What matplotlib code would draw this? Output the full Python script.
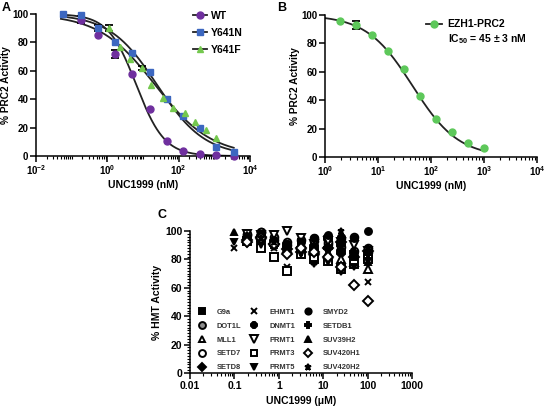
import numpy as np
import matplotlib
matplotlib.use("Agg")
import matplotlib.pyplot as plt
from matplotlib.ticker import LogLocator, NullFormatter, MultipleLocator, FixedLocator

plt.rcParams["font.family"] = ["Liberation Sans", "DejaVu Sans"]
plt.rcParams["font.weight"] = "bold"
plt.rcParams["mathtext.fontset"] = "custom"
plt.rcParams["mathtext.rm"] = "Liberation Sans:bold"
plt.rcParams["mathtext.bf"] = "Liberation Sans:bold"
plt.rcParams["mathtext.default"] = "rm"

# ---- panel A data (nM, % activity) ----
wt_x = [0.18, 0.54, 1.6, 5.0, 15.5, 46, 132, 390, 1120, 3470]
wt_y = [96, 85.4, 72, 58, 33, 10.3, 3.3, 1.4, 0.5, 0.2]
wt_err = [2.5, 0, 3, 0, 0, 0, 0, 0, 0, 0]
y641n_x = [0.059, 0.18, 0.54, 1.6, 5.0, 15.5, 46, 132, 390, 1120, 3470]
y641n_y = [100, 99.5, 90, 80, 72.5, 59, 40, 28.4, 19.7, 6, 2.6]
y641n_err = [0, 0, 2, 0, 0, 0, 1.5, 0, 0, 0, 0]
y641f_x = [1.15, 2.3, 4.4, 9.3, 17, 36, 69, 148, 282, 575, 1150]
y641f_y = [90, 77, 68, 62, 50, 41, 34, 30, 24, 18.5, 12.7]
y641f_err = [2, 0, 0, 1.5, 0, 0, 0, 0, 0, 0, 0]
# fitted curve parameters (IC50 nM, Hill slope)
wt_fit = (6.5, 1.1)
y641n_fit = (25, 0.65)
y641f_fit = (22, 0.55)

# ---- panel B data ----
ezh1_x = [1.95, 3.9, 7.8, 15.6, 31.25, 62.5, 125, 250, 500, 1000]
ezh1_y = [95.5, 93, 86, 75, 62, 43, 27, 17.5, 10, 6.5]
ezh1_err = [0, 3, 0, 0, 0, 0, 0, 0, 0, 0]
ezh1_fit = (45, 1.0)

# ---- panel C data (uM, % activity) ----
conc = [0.098, 0.195, 0.39, 0.78, 1.56, 3.125, 6.25, 12.5, 25, 50, 100]
nan = np.nan
hmt = {
    "G9a":      [nan, 96, 94, 90, 86, 92, 88, 90, 87, 84, 82],
    "DOT1L":    [nan, 97, 99, 94, 90, 88, 93, 91, 89, 86, 85],
    "MLL1":     [nan, 95, 97, 93, 88, 90, 86, 84, 80, 78, 73],
    "SETD7":    [nan, 98, 99, 96, 92, 94, 95, 92, 95, 96, 88],
    "SETD8":    [nan, 94, 96, 91, 87, 85, 84, 88, 92, 82, 86],
    "EHMT1":    [88, 93, 90, 88, 75, 86, 78, 80, 74, 76, 64],
    "DNMT1":    [nan, 94, 96, 92, 90, 87, 89, 95, 85, 82, 80],
    "PRMT1":    [nan, 98, 97, 97, 100, 95, 91, 93, 92, 90, 86],
    "PRMT3":    [nan, 93, 88, 82, 72, 84, 80, 79, 73, 77, 80],
    "PRMT5":    [92, 91, 90, 89, 86, 84, 77, 78, 71, 75, 79],
    "SMYD2":    [nan, 96, 98, 94, 89, 92, 95, 97, 96, 95, 100],
    "SETDB1":   [nan, 95, 93, 90, 88, 86, 86, 88, 90, 85, 84],
    "SUV39H2":  [99, 97, 96, 93, 91, 90, 88, 85, 86, 84, 78],
    "SUV420H1": [nan, 92, 95, 91, 84, 88, 85, 82, 75, 62, 51],
    "SUV420H2": [nan, 97, 95, 92, 90, 93, 90, 87, 100, 83, 88],
}
# marker, facecolor, size
hmt_style = {
    "G9a": ("s", "k", 5), "DOT1L": ("o", "0.55", 5.5), "MLL1": ("^", "w", 5.5),
    "SETD7": ("o", "w", 5.5), "SETD8": ("D", "k", 5), "EHMT1": ("x", "k", 5),
    "DNMT1": ("8", "k", 6), "PRMT1": ("v", "w", 6), "PRMT3": ("s", "w", 5.5),
    "PRMT5": ("v", "k", 5), "SMYD2": ("o", "k", 5), "SETDB1": ("P", "k", 5.5),
    "SUV39H2": ("^", "k", 4.5), "SUV420H1": ("D", "w", 5), "SUV420H2": ("*", "k", 5),
}

purple = "#6F2F9E"
blue = "#3C67C0"
green = "#74C84E"
green_b = "#5DC85A"


def hill(x, ic50, h):
    return 100.0 / (1.0 + (x / ic50) ** h)


def prism_axes(ax, fs=7):
    for s in ["top", "right"]:
        ax.spines[s].set_visible(False)
    for s in ["left", "bottom"]:
        ax.spines[s].set_linewidth(1.1)
    ax.tick_params(which="major", direction="out", length=4, width=1.1, labelsize=fs, pad=1.5)
    ax.tick_params(which="minor", direction="out", length=2, width=0.8)
    ax.set_ylim(0, 100)
    ax.yaxis.set_major_locator(MultipleLocator(20))


fig = plt.figure(figsize=(5.5, 4.09), dpi=100)
W, H = 550, 409


def add_ax(l, r, t, b):
    return fig.add_axes([l / W, 1 - b / H, (r - l) / W, (b - t) / H])


# ---- A ----
axA = add_ax(36, 250, 14, 156)
xx = np.logspace(np.log10(0.05), np.log10(3500), 300)
for x, y, e, fit, c, m, lab in [
    (wt_x, wt_y, wt_err, wt_fit, purple, "o", "WT"),
    (y641n_x, y641n_y, y641n_err, y641n_fit, blue, "s", "Y641N"),
    (y641f_x, y641f_y, y641f_err, y641f_fit, green, "^", "Y641F"),
]:
    axA.plot(xx, hill(xx, *fit), color="#222222", lw=1.3, zorder=2)
    e = np.array(e)
    mask = e > 0
    axA.errorbar(np.array(x)[mask], np.array(y)[mask], yerr=e[mask], fmt="none",
                 ecolor="k", elinewidth=1.3, capsize=3, capthick=1.3, zorder=3)
    axA.plot(x, y, ls="none", marker=m, ms=5, color=c, mec=c, zorder=4, clip_on=False)
    axA.plot([], [], color="#222222", lw=1.3, marker=m, ms=5, mfc=c, mec=c, label=lab)
axA.set_xscale("log")
axA.set_xlim(1e-2, 1e4)
axA.xaxis.set_major_locator(FixedLocator([1e-2, 1, 1e2, 1e4]))
axA.xaxis.set_minor_locator(LogLocator(base=10, subs=np.arange(1, 10), numticks=50))
axA.xaxis.set_minor_formatter(NullFormatter())
prism_axes(axA)
axA.set_xticklabels(["$10^{-2}$", "$10^{0}$", "$10^{2}$", "$10^{4}$"])
axA.set_xlabel("UNC1999 (nM)", fontsize=7.5, fontweight="bold", labelpad=2)
axA.set_ylabel("% PRC2 Activity", fontsize=7.3, fontweight="bold", labelpad=1)
axA.legend(loc="upper left", bbox_to_anchor=(0.715, 1.05), frameon=False, fontsize=7.5,
           handlelength=1.3, handletextpad=0.4, labelspacing=0.65, borderaxespad=0)
fig.text(2 / W, 1 - 8 / H, "A", fontsize=9, fontweight="bold", va="center")

# ---- B ----
axB = add_ax(325, 537, 15, 157)
xb = np.logspace(0, 3, 300)
axB.plot(xb, hill(xb, *ezh1_fit), color="#222222", lw=1.3, zorder=2)
eb = np.array(ezh1_err)
mb = eb > 0
axB.errorbar(np.array(ezh1_x)[mb], np.array(ezh1_y)[mb], yerr=eb[mb], fmt="none",
             ecolor="k", elinewidth=1.3, capsize=3, capthick=1.3, zorder=3)
axB.plot(ezh1_x, ezh1_y, ls="none", marker="o", ms=5, color=green_b, zorder=4, clip_on=False)
axB.plot([], [], color="#222222", lw=1.3, marker="o", ms=5, mfc=green_b, mec=green_b,
         label="EZH1-PRC2")
axB.plot([], [], ls="none", label="IC$_{50}$ = 45 ± 3 nM")
axB.set_xscale("log")
axB.set_xlim(1, 1e4)
axB.xaxis.set_major_locator(FixedLocator([1, 10, 100, 1000, 1e4]))
axB.xaxis.set_minor_locator(LogLocator(base=10, subs=np.arange(1, 10), numticks=50))
axB.xaxis.set_minor_formatter(NullFormatter())
prism_axes(axB)
axB.set_xticklabels(["$10^{0}$", "$10^{1}$", "$10^{2}$", "$10^{3}$", "$10^{4}$"])
axB.set_xlabel("UNC1999 (nM)", fontsize=7.5, fontweight="bold", labelpad=2)
axB.set_ylabel("% PRC2 Activity", fontsize=7.3, fontweight="bold", labelpad=1)
legB = axB.legend(loc="upper left", bbox_to_anchor=(0.455, 1.0), frameon=False, fontsize=7.5,
                  handlelength=1.6, handletextpad=0.5, labelspacing=0.3, borderaxespad=0)
fig.text(277 / W, 1 - 8 / H, "B", fontsize=9, fontweight="bold", va="center")

# ---- C ----
axC = add_ax(190, 412, 231, 373)
for name, vals in hmt.items():
    m, fc, ms = hmt_style[name]
    axC.plot(conc, vals, ls="none", marker=m, ms=ms, mfc=fc, mec="k", mew=1.4,
             color="k", label=name, clip_on=False, zorder=3)
axC.set_xscale("log")
axC.set_xlim(0.01, 1000)
axC.xaxis.set_major_locator(FixedLocator([0.01, 0.1, 1, 10, 100, 1000]))
axC.xaxis.set_minor_locator(LogLocator(base=10, subs=np.arange(1, 10), numticks=50))
axC.xaxis.set_minor_formatter(NullFormatter())
prism_axes(axC, fs=7.5)
axC.yaxis.set_minor_locator(MultipleLocator(2))
axC.set_xticklabels(["0.01", "0.1", "1", "10", "100", "1000"])
axC.set_xlabel("UNC1999 (μM)", fontsize=7.5, fontweight="bold", labelpad=4)
axC.set_ylabel("% HMT Activity", fontsize=7.5, fontweight="bold", labelpad=2)
legC = axC.legend(loc="upper left", bbox_to_anchor=(0.02, 0.475), ncol=3, frameon=False,
                  fontsize=5.4, handlelength=1.2, handletextpad=1.4, columnspacing=1.1,
                  labelspacing=0.88, borderaxespad=0, markerscale=0.9)
for t in legC.get_texts():
    t.set_color("#333333")
fig.text(158 / W, 1 - 215 / H, "C", fontsize=9, fontweight="bold", va="center")

fig.savefig("out.png", dpi=100)
